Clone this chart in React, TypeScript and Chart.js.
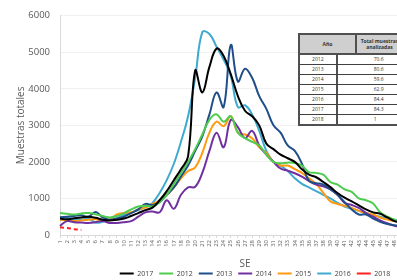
import React, { useEffect, useRef } from "react";
import { Chart, registerables } from "chart.js";

Chart.register(...registerables);

const weeks = ["1","2","3","4","5","6","7","8","9","10","11","12","13","14","15","16","17","18","19","20","21","22","23","24","25","26","27","28","29","30","31","32","33","34","35","36","37","38","39","40","41","42","43","44","45","46","47","48","49","50","51","52","53"];

const s2017 = [450,430,460,480,500,470,420,400,420,450,520,600,680,750,950,1200,1500,1800,2150,4500,3900,4600,5100,4900,4400,3800,3400,3250,3000,2500,2350,2200,2100,2000,1800,1650,1580,1450,1310,1150,1020,920,810,700,620,580,480,380,330,300,280,260,250];
const s2012 = [600,580,560,590,600,570,520,480,520,600,700,780,800,780,900,1100,1400,1700,2000,2350,2750,3150,3300,3100,3250,2800,2650,2550,2450,2200,2000,1960,1980,1970,1900,1720,1700,1650,1450,1380,1250,1180,1000,950,860,620,500,420,330,310,300,290,280];
const s2013 = [480,500,520,540,500,630,480,420,450,500,600,700,850,820,900,1100,1300,1600,1900,2300,2700,3300,3900,3500,5200,4200,4550,4300,3800,3450,3000,2800,2450,2300,1950,1480,1420,1380,1250,1100,900,700,560,560,450,360,300,270,250,240,230,220,210];
const s2014 = [250,380,350,340,330,350,380,330,330,350,380,500,620,640,620,950,720,1100,1300,1320,1700,2300,2800,2400,3150,2950,2650,2850,2450,2200,2000,1820,1760,1690,1600,1480,1380,1330,1250,1100,880,820,740,600,500,400,320,250,210,190,180,170,160];
const s2015 = [420,400,380,400,420,430,380,420,560,600,620,700,750,850,950,1100,1300,1550,1750,1850,2250,2800,3100,2980,3250,2800,2750,2650,2400,2250,2000,1900,1900,1800,1700,1550,1400,1150,920,850,800,740,660,600,560,480,420,380,350,330,310,300,290];
const s2016 = [500,470,440,420,450,340,360,420,460,550,620,680,760,880,1150,1500,1950,2550,3250,4300,5550,5500,5150,4800,4350,3500,3550,3300,2850,2300,2000,1900,1750,1550,1400,1300,1200,1100,1000,880,780,720,660,600,540,500,460,420,380,360,340,320,300];
const s2018 = [210,190,160,140];

const yTicks = [0,1000,2000,3000,4000,5000,6000];

const tableYears = ["2012","2013","2014","2015","2016","2017","2018"];
const tableTotals = ["70.6","80.6","59.6","62.9","84.4","84.3","1"];

const FONT = "'Open Sans', 'Liberation Sans', sans-serif";

export default function App() {
  const ref = useRef<HTMLCanvasElement | null>(null);

  useEffect(() => {
    if (!ref.current) return;
    Chart.defaults.font.family = FONT;
    const mk = (label: string, data: number[], color: string, dash?: number[]) => ({
      label,
      data,
      borderColor: color,
      backgroundColor: color,
      borderWidth: 2,
      borderDash: dash || [],
      pointRadius: 0,
      tension: 0.4,
      fill: false,
    });
    const chart = new Chart(ref.current, {
      type: "line",
      data: {
        labels: weeks,
        datasets: [
          mk("2017", s2017, "#000000"),
          mk("2012", s2012, "#4FCC4F"),
          mk("2013", s2013, "#1F4E89"),
          mk("2014", s2014, "#7030A0"),
          mk("2015", s2015, "#FF9A10"),
          mk("2016", s2016, "#3FAAD0"),
          mk("2018", s2018, "#FF2020", [4, 3]),
        ],
      },
      options: {
        responsive: false,
        animation: false,
        devicePixelRatio: 1,
        layout: { padding: { top: 15, left: 0, right: 0, bottom: 0 } },
        plugins: {
          legend: {
            position: "bottom",
            labels: {
              usePointStyle: true,
              pointStyle: "line",
              pointStyleWidth: 14,
              font: { size: 7, family: FONT },
              color: "#404040",
              padding: 6,
            },
          },
          tooltip: { enabled: false },
        },
        scales: {
          x: {
            grid: { drawOnChartArea: false, drawTicks: true, tickLength: 3, color: "#d9d9d9" },
            border: { color: "#d9d9d9" },
            ticks: { autoSkip: false, minRotation: 90, maxRotation: 90, font: { size: 6, family: FONT }, color: "#595959", padding: 2 },
            title: { display: true, text: "SE", font: { size: 10, family: FONT }, color: "#595959", padding: { top: 0, bottom: -6 } },
            afterFit: (s: any) => { s.height = 29; },
          },
          y: {
            min: 0,
            max: 6000,
            afterBuildTicks: (s: any) => { s.ticks = yTicks.map((v) => ({ value: v })); },
            ticks: { font: { size: 9.5, family: FONT }, color: "#595959", padding: 10, callback: (v: any) => String(v) },
            grid: { color: "#f0f0f0", drawTicks: false },
            border: { color: "#d9d9d9" },
            title: { display: true, text: "Muestras totales", font: { size: 10, family: FONT }, color: "#595959", padding: { top: 15, bottom: 0 } },
            afterFit: (s: any) => { s.width = 60; },
          },
          y2: {
            position: "right",
            display: true,
            grid: { display: false, drawTicks: false },
            border: { display: false },
            ticks: { display: false },
            afterFit: (s: any) => { s.width = 80; },
          },
        },
      },
    } as any);
    return () => chart.destroy();
  }, []);

  const cellBorder = "1px solid #404040";
  return (
    <div style={{ position: "fixed", left: 0, top: 0, width: 397, height: 280, overflow: "hidden", background: "#fff" }}>
      <canvas ref={ref} width={510} height={287} style={{ position: "absolute", left: 0, top: 0 }} />
      <div style={{ position: "absolute", left: 298, top: 33, width: 110, border: "2px solid #505050", background: "#fff", fontFamily: FONT, fontSize: 5, color: "#333", boxSizing: "border-box" }}>
        <div style={{ display: "flex", height: 18, background: "#cfcfcf", borderBottom: "2px solid #505050" }}>
          <div style={{ width: 55, borderRight: "2px solid #505050", display: "flex", alignItems: "center", justifyContent: "center", fontWeight: 700 }}>Año</div>
          <div style={{ width: 45, display: "flex", alignItems: "center", justifyContent: "center", textAlign: "center", lineHeight: "6px", fontWeight: 700 }}>Total muestras<br />analizadas</div>
        </div>
        {tableYears.map((y, i) => (
          <div key={y} style={{ display: "flex", height: 9, borderBottom: i < tableYears.length - 1 ? cellBorder : "none", lineHeight: "9px" }}>
            <div style={{ width: 55, borderRight: "2px solid #505050", textAlign: "center" }}>{y}</div>
            <div style={{ width: 50, paddingLeft: 36, whiteSpace: "nowrap" }}>{tableTotals[i]}</div>
          </div>
        ))}
      </div>
    </div>
  );
}
